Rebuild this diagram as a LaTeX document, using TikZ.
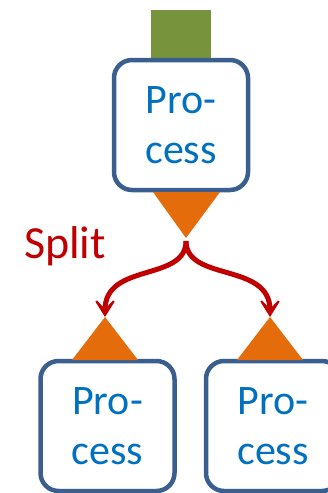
\documentclass[tikz,border=0pt]{standalone}
\usepackage{fontspec}
\setmainfont{Carlito}
\usetikzlibrary{arrows.meta}
\definecolor{boxblue}{HTML}{3A5F8F}
\definecolor{txtblue}{HTML}{0070C0}
\definecolor{orng}{HTML}{E46C0A}
\definecolor{grn}{HTML}{77933C}
\definecolor{splitred}{HTML}{C00000}
\tikzset{
  procbox/.style={draw=boxblue, line width=4.5pt, fill=white, rounded corners=18pt,
    minimum width=134pt, minimum height=130pt, inner sep=0pt, outer sep=0pt,
    text=txtblue, align=center, font=\fontsize{42}{50}\selectfont},
  tri/.style={fill=orng, draw=none},
  splitarrow/.style={draw=splitred, line width=5pt,
    -{Stealth[length=24pt,width=30pt,inset=16pt]}},
}
\begin{document}
\begin{tikzpicture}[x=1pt,y=-1pt]
\useasboundingbox (0,0) rectangle (328,493);
\clip (0,0) rectangle (328,493);
% green input
\fill[grn] (151,10) rectangle (211,70);
% boxes
\node[procbox] (top) at (181,125) {Pro-\\cess};
\node[procbox] (left) at (107.5,426) {Pro-\\cess};
\node[procbox] (right) at (273,426) {Pro-\\cess};
% triangles
\coordinate (ttip) at (186,238);
\coordinate (ltip) at (105,317);
\coordinate (rtip) at (270,317);
\fill[tri] (153,192) -- (220,192) -- (ttip) -- cycle;
\fill[tri] (72,360) -- (138,360) -- (ltip) -- cycle;
\fill[tri] (237,360) -- (303,360) -- (rtip) -- cycle;
% split arrows
\coordinate (s) at (186,241);
\draw[splitarrow] (s) .. controls (186,282) and (105,262) .. (ltip);
\draw[splitarrow] (s) .. controls (186,282) and (270,262) .. (rtip);
\node[anchor=base west, inner sep=0pt, text=splitred, font=\fontsize{46}{50}\selectfont] (split) at (24,258) {Split};
\end{tikzpicture}
\end{document}
